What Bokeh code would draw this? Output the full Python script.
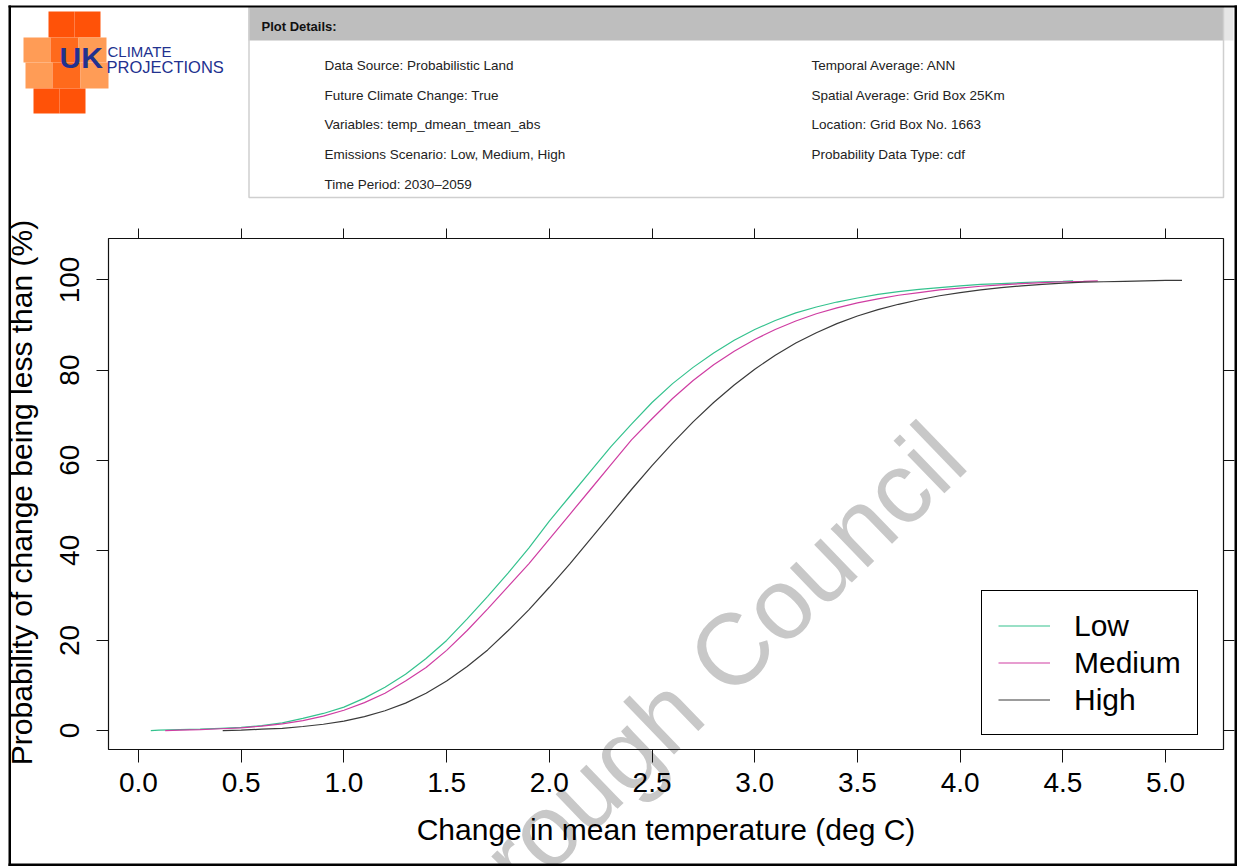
import math
from bokeh.plotting import figure
from bokeh.models import (Range1d, LinearAxis, FixedTicker, NumeralTickFormatter,
                          CustomJSTickFormatter, Label, BoxAnnotation, Legend, LegendItem)
from bokeh.embed import file_html
from bokeh.resources import INLINE

# ---------------- data ----------------
low_x = [0.06, 0.1, 0.2, 0.3, 0.4, 0.5, 0.6, 0.7, 0.8, 0.9, 1.0, 1.1, 1.2, 1.3, 1.4, 1.5,
         1.6, 1.7, 1.8, 1.9, 2.0, 2.1, 2.2, 2.3, 2.4, 2.5, 2.6, 2.7, 2.8, 2.9, 3.0, 3.1,
         3.2, 3.3, 3.4, 3.5, 3.6, 3.7, 3.8, 3.9, 4.0, 4.1, 4.2, 4.3, 4.4, 4.5, 4.55]
low_p = [0.0, 0.1, 0.2, 0.3, 0.5, 0.7, 1.1, 1.7, 2.7, 3.8, 5.2, 7.2, 9.6, 12.5, 16.0, 20.0,
         24.8, 29.8, 35.0, 40.5, 46.5, 52.0, 57.5, 63.0, 68.0, 72.8, 77.0, 80.6, 83.8, 86.6,
         89.0, 91.0, 92.7, 94.0, 95.1, 96.0, 96.8, 97.4, 97.9, 98.3, 98.7, 99.0, 99.2, 99.4,
         99.6, 99.7, 99.8]

med_x = [0.13, 0.2, 0.3, 0.4, 0.5, 0.6, 0.7, 0.8, 0.9, 1.0, 1.1, 1.2, 1.3, 1.4, 1.5, 1.6,
         1.7, 1.8, 1.9, 2.0, 2.1, 2.2, 2.3, 2.4, 2.5, 2.6, 2.7, 2.8, 2.9, 3.0, 3.1, 3.2,
         3.3, 3.4, 3.5, 3.6, 3.7, 3.8, 3.9, 4.0, 4.1, 4.2, 4.3, 4.4, 4.5, 4.6, 4.67]
med_p = [0.0, 0.1, 0.2, 0.4, 0.6, 1.0, 1.5, 2.2, 3.2, 4.5, 6.2, 8.3, 11.0, 14.0, 17.8, 22.2,
         27.0, 32.0, 37.0, 42.5, 48.0, 53.5, 59.0, 64.5, 69.2, 73.7, 77.7, 81.2, 84.2, 86.8,
         89.0, 90.9, 92.5, 93.8, 94.9, 95.8, 96.6, 97.2, 97.8, 98.2, 98.6, 98.9, 99.2, 99.4,
         99.6, 99.7, 99.8]

high_x = [0.41, 0.5, 0.6, 0.7, 0.8, 0.9, 1.0, 1.1, 1.2, 1.3, 1.4, 1.5, 1.6, 1.7, 1.8, 1.9,
          2.0, 2.1, 2.2, 2.3, 2.4, 2.5, 2.6, 2.7, 2.8, 2.9, 3.0, 3.1, 3.2, 3.3, 3.4, 3.5,
          3.6, 3.7, 3.8, 3.9, 4.0, 4.1, 4.2, 4.3, 4.4, 4.5, 4.6, 4.7, 4.8, 4.9, 5.0, 5.08]
high_p = [0.0, 0.1, 0.3, 0.5, 0.9, 1.4, 2.1, 3.1, 4.4, 6.1, 8.3, 11.0, 14.2, 17.9, 22.2, 26.8,
          31.8, 37.0, 42.5, 48.0, 53.5, 58.8, 63.8, 68.5, 72.8, 76.7, 80.2, 83.3, 86.0, 88.3,
          90.3, 92.0, 93.4, 94.6, 95.6, 96.5, 97.2, 97.8, 98.3, 98.7, 99.0, 99.3, 99.5, 99.6,
          99.7, 99.8, 99.9, 99.9]

series_names = ["Low", "Medium", "High"]
series_colors = ["#34C28E", "#CF3DA2", "#3A3A3A"]

x_ticks = [0.0, 0.5, 1.0, 1.5, 2.0, 2.5, 3.0, 3.5, 4.0, 4.5, 5.0]
y_ticks = [0, 20, 40, 60, 80, 100]

x_label = "Change in mean temperature (deg C)"
y_label = "Probability of change being less than (%)"

details_title = "Plot Details:"
details_left = ["Data Source: Probabilistic Land",
                "Future Climate Change: True",
                "Variables: temp_dmean_tmean_abs",
                "Emissions Scenario: Low, Medium, High",
                "Time Period: 2030\u20132059"]
details_right = ["Temporal Average: ANN",
                 "Spatial Average: Grid Box 25Km",
                 "Location: Grid Box No. 1663",
                 "Probability Data Type: cdf"]
watermark = "rough Council"

# ---------------- geometry ----------------
FONT = "Liberation Sans"
W, H = 1240, 866
# plot box (pixels) and the data values at its edges
BL, BR, BT, BB = 108, 1223, 238, 749
X0, X1, Y0, Y1 = -0.146, 5.282, -4.2, 109.2
SX = (BR - BL) / (X1 - X0)
SY = (BB - BT) / (Y1 - Y0)
XA, XB = X0 - BL / SX, X1 + (W - BR) / SX          # whole canvas is the frame
YA, YB = Y0 - (H - BB) / SY, Y1 + BT / SY


def dx(px):
    return XA + px / SX


def dy(py):
    return YB - py / SY


p = figure(width=W, height=H, x_range=Range1d(XA, XB), y_range=Range1d(YA, YB),
           output_backend="svg", toolbar_location=None,
           min_border_left=0, min_border_right=0, min_border_top=0, min_border_bottom=0)
p.background_fill_color = "white"
p.border_fill_color = "white"
p.outline_line_color = None
p.grid.visible = False


def style_axis(ax, ticks, out, fixed):
    ax.ticker = FixedTicker(ticks=ticks)
    ax.fixed_location = fixed
    ax.axis_line_color = None
    ax.major_tick_out = out
    ax.major_tick_in = 0
    ax.minor_tick_out = 0
    ax.minor_tick_in = 0
    ax.major_tick_line_color = "#111111"
    ax.major_tick_line_width = 1


# bottom axis
xa = p.below[0]
style_axis(xa, x_ticks, 13, Y0)
xa.formatter = NumeralTickFormatter(format="0.0")
xa.major_label_standoff = 10
xa.major_label_text_font = FONT
xa.major_label_text_font_size = "28px"
xa.major_label_text_color = "black"

# left axis
ya = p.left[0]
style_axis(ya, y_ticks, 12, X0)
ya.major_label_orientation = "vertical"
ya.major_label_standoff = 17
ya.major_label_text_font = FONT
ya.major_label_text_font_size = "28px"
ya.major_label_text_color = "black"

blank = CustomJSTickFormatter(code="return ''")
top_ax = LinearAxis(formatter=blank, major_label_text_font_size="0px", major_label_standoff=0)
style_axis(top_ax, x_ticks, 10, Y1)
p.add_layout(top_ax, "above")
right_ax = LinearAxis(formatter=blank, major_label_text_font_size="0px", major_label_standoff=0)
style_axis(right_ax, y_ticks, 11, X1)
p.add_layout(right_ax, "right")

# axis titles
p.add_layout(Label(x=dx(665.5), y=dy(829), text=x_label, text_font=FONT, text_font_size="30px",
                   text_color="black", text_align="center", text_baseline="alphabetic"))
p.add_layout(Label(x=dx(21), y=dy(492), text=y_label, text_font=FONT, text_font_size="30px",
                   text_color="black", text_align="center", text_baseline="alphabetic",
                   angle=math.pi / 2))

# watermark (under the curves and axes)
p.add_layout(Label(x=dx(947), y=dy(441), text=watermark, angle=math.radians(44),
                   text_align="right", text_baseline="alphabetic", text_font=FONT,
                   text_font_size="101px", text_color="#C8C8C8", level="underlay"))

# plot box
p.add_layout(BoxAnnotation(left=X0, right=X1, top=Y1, bottom=Y0, fill_alpha=0,
                           line_color="#111111", line_alpha=1.0, line_width=1.2))

# curves
renderers = []
for xs, ps, col in zip([low_x, med_x, high_x], [low_p, med_p, high_p], series_colors):
    renderers.append(p.line(xs, ps, line_color=col, line_width=1.2))

legend = Legend(items=[LegendItem(label=n, renderers=[r]) for n, r in zip(series_names, renderers)],
                location=(981, H - 735), margin=0, padding=16, spacing=0,
                glyph_width=52, glyph_height=37, label_height=37, label_standoff=24,
                label_text_font=FONT, label_text_font_size="30px", label_text_color="black",
                border_line_color="black", border_line_width=1, border_line_alpha=1,
                background_fill_color="white", background_fill_alpha=1)
p.add_layout(legend)


# ---------------- header decorations ----------------
def box(l, t, r, b, fill, line=None, lw=1, alpha=1.0):
    p.add_layout(BoxAnnotation(left=dx(l), right=dx(r), top=dy(t), bottom=dy(b),
                               fill_color=fill, fill_alpha=alpha,
                               line_color=line, line_alpha=1.0, line_width=lw))


# logo squares
DARK, MID, LIGHT = "#FF5208", "#FF6A1C", "#FF9C56"
logo = [
    (48, 11, 74, 37, DARK), (74, 11, 100, 37, DARK),
    (23, 37, 50, 62, LIGHT), (50, 37, 78, 62, MID), (78, 37, 106, 62, LIGHT),
    (25, 62, 52, 88, LIGHT), (52, 62, 80, 88, MID), (80, 62, 108, 88, LIGHT),
    (33, 88, 59, 113, DARK), (59, 88, 85, 113, DARK),
]
for l, t, r, b, c in logo:
    box(l, t, r, b, c)

NAVY = "#22318F"
p.add_layout(Label(x=dx(59), y=dy(57), text="UK", text_font=FONT, text_font_size="30px",
                   text_font_style="bold", text_color=NAVY, text_baseline="alphabetic"))
p.add_layout(Label(x=dx(107), y=dy(51), text="CLIMATE", text_font=FONT, text_font_size="15px",
                   text_color=NAVY, text_baseline="alphabetic"))
p.add_layout(Label(x=dx(106), y=dy(66), text="PROJECTIONS", text_font=FONT, text_font_size="16.5px",
                   text_color=NAVY, text_baseline="alphabetic"))

# plot-details box
box(248, 7, 1223, 40, "#BEBEBE")
box(1223, 7, 1233, 40, "#E6E6E6")
box(248.5, 7, 1223, 197, "white", line="#CFCFCF", lw=1.5, alpha=0.0)
p.add_layout(Label(x=dx(261), y=dy(26), text=details_title, text_font=FONT,
                   text_font_size="13px", text_font_style="bold", text_color="#111111",
                   text_baseline="middle"))
for i, t in enumerate(details_left):
    p.add_layout(Label(x=dx(324), y=dy(65 + 29.7 * i), text=t, text_font=FONT,
                       text_font_size="13.5px", text_color="#222222", text_baseline="middle"))
for i, t in enumerate(details_right):
    p.add_layout(Label(x=dx(811), y=dy(65 + 29.7 * i), text=t, text_font=FONT,
                       text_font_size="13.5px", text_color="#222222", text_baseline="middle"))

# outer black frame of the picture
box(8, 5, 10.5, 865.5, "black")
box(8, 5, 1236.5, 7, "black")
box(1234, 5, 1236.5, 865.5, "black")
box(8, 863, 1236.5, 865.5, "black")

open("out.html", "w").write(file_html(p, INLINE))
